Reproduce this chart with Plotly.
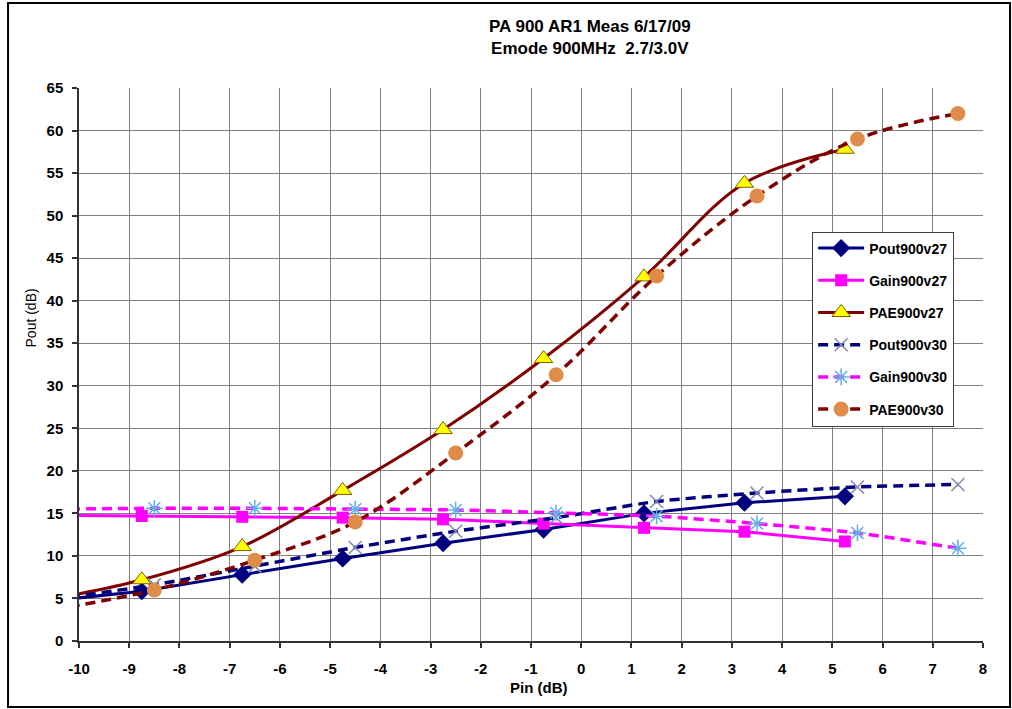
import plotly.graph_objects as go

# Input power sweep (dB) for the two supply voltages
pin_v27 = [-10.75, -8.75, -6.75, -4.75, -2.75, -0.75, 1.25, 3.25, 5.25]
pin_v30 = [-10.5, -8.5, -6.5, -4.5, -2.5, -0.5, 1.5, 3.5, 5.5, 7.5]

# 2.7 V measurements
pout_v27 = [4.6, 5.85, 7.8, 9.7, 11.5, 13.1, 15.0, 16.25, 17.0]
gain_v27 = [14.8, 14.7, 14.6, 14.5, 14.3, 13.8, 13.3, 12.85, 11.7]
pae_v27 = [4.7, 7.2, 11.1, 17.7, 24.85, 33.2, 42.8, 53.8, 57.8]

# 3.0 V measurements
pout_v30 = [4.9, 6.6, 8.8, 11.0, 12.9, 14.5, 16.4, 17.4, 18.1, 18.4]
gain_v30 = [15.5, 15.6, 15.6, 15.5, 15.4, 15.06, 14.67, 13.8, 12.7, 10.9]
pae_v30 = [3.7, 6.0, 9.5, 14.0, 22.1, 31.3, 42.9, 52.3, 59.0, 62.0]

x_ticks = list(range(-10, 9))
x_labels = [str(v) for v in x_ticks]  # plain hyphen-minus labels
y_ticks = list(range(0, 66, 5))

NAVY = "#00007f"
MAGENTA = "#ff00ff"
DARKRED = "#800000"
FONT = "Arial, Liberation Sans, sans-serif"
DASH = "10px,6px"

fig = go.Figure()

fig.add_trace(go.Scatter(
    x=pin_v27, y=pout_v27, name="Pout900v27", legendgroup="a",
    mode="lines+markers",
    line=dict(color=NAVY, width=3),
    marker=dict(symbol="diamond", size=14, color=NAVY),
))
fig.add_trace(go.Scatter(
    x=pin_v27, y=gain_v27, name="Gain900v27", legendgroup="b",
    mode="lines+markers",
    line=dict(color=MAGENTA, width=3),
    marker=dict(symbol="square", size=12, color=MAGENTA),
))
fig.add_trace(go.Scatter(
    x=pin_v27, y=pae_v27, name="PAE900v27", legendgroup="c",
    mode="lines+markers",
    line=dict(color=DARKRED, width=3, shape="spline", smoothing=1.0),
    marker=dict(symbol="triangle-up", size=16, color="#ffff00",
                line=dict(color="#7f5f00", width=1)),
))
fig.add_trace(go.Scatter(
    x=pin_v30, y=pout_v30, name="Pout900v30", legendgroup="d",
    mode="lines+markers",
    line=dict(color=NAVY, width=3.5, dash=DASH, shape="spline", smoothing=0.6),
    marker=dict(symbol="x-thin-open", size=13, color="#8088b8",
                line=dict(color="#8088b8", width=1.5)),
))
fig.add_trace(go.Scatter(
    x=pin_v30, y=gain_v30, name="Gain900v30", legendgroup="e",
    mode="lines+markers",
    line=dict(color=MAGENTA, width=3.5, dash=DASH, shape="spline", smoothing=0.6),
    marker=dict(symbol="asterisk-open", size=14, color="#5fb0e8",
                line=dict(color="#5fb0e8", width=1.5)),
))
fig.add_trace(go.Scatter(
    x=pin_v30, y=pae_v30, name="PAE900v30", legendgroup="f",
    mode="lines+markers",
    line=dict(color=DARKRED, width=3.5, dash=DASH, shape="spline", smoothing=1.0),
    marker=dict(symbol="circle", size=15, color="#df8c48"),
))

axis_common = dict(
    showgrid=True, gridcolor="#808080", gridwidth=1,
    showline=True, linecolor="#333333", linewidth=1.5,
    ticks="outside", ticklen=5, tickcolor="#333333", tickwidth=1.5,
    tickfont=dict(family=FONT, size=15, color="black", weight="bold"),
    zeroline=False,
)

fig.update_xaxes(range=[-10, 8], tickmode="array", tickvals=x_ticks,
                 ticktext=x_labels, ticklabelstandoff=8, **axis_common)
fig.update_yaxes(range=[0, 65], tickmode="array", tickvals=y_ticks,
                 ticklabelstandoff=6, **axis_common)

fig.update_layout(
    width=1012, height=709,
    margin=dict(l=79, r=29, t=88, b=68),
    paper_bgcolor="white", plot_bgcolor="white",
    font=dict(family=FONT, color="black"),
    showlegend=True,
    legend=dict(
        x=0.811, y=0.7405, xanchor="left", yanchor="top",
        bgcolor="white", bordercolor="#404040", borderwidth=1,
        font=dict(family=FONT, size=14, color="black", weight="bold"),
        tracegroupgap=11, itemwidth=46,
    ),
    annotations=[
        dict(text="PA 900 AR1 Meas 6/17/09<br>Emode 900MHz\u00a0 2.7/3.0V",
             x=0.565, y=1.0913, xref="paper", yref="paper",
             xanchor="center", yanchor="middle", showarrow=False,
             font=dict(family=FONT, size=17, color="black", weight="bold")),
        dict(text="Pin (dB)", x=0.5088, y=-0.0841, xref="paper", yref="paper",
             xanchor="center", yanchor="middle", showarrow=False,
             font=dict(family=FONT, size=15, color="black", weight="bold")),
        dict(text="Pout (dB)", x=-0.052, y=0.585, xref="paper", yref="paper",
             xanchor="center", yanchor="middle", showarrow=False, textangle=-90,
             font=dict(family=FONT, size=14, color="black")),
    ],
    shapes=[
        # chart frame
        dict(type="rect", xref="paper", yref="paper",
             x0=-0.0785, x1=1.0299, y0=-0.1193, y1=1.1537,
             line=dict(color="black", width=2), fillcolor="rgba(0,0,0,0)",
             layer="below"),
    ],
)

fig.write_html("out.html")
